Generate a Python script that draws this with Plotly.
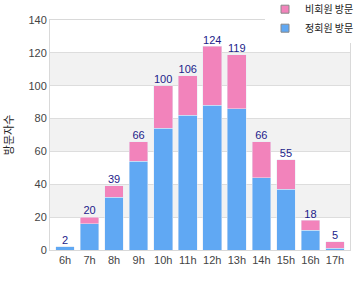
import plotly.graph_objects as go

hours = ["6h", "7h", "8h", "9h", "10h", "11h", "12h", "13h", "14h", "15h", "16h", "17h"]
blue_vals = [2, 16, 32, 54, 74, 82, 88, 86, 44, 37, 12, 1]
pink_vals = [0, 4, 7, 12, 26, 24, 36, 33, 22, 18, 6, 4]
totals = [b + p for b, p in zip(blue_vals, pink_vals)]
blue_name = "정회원 방문"
pink_name = "비회원 방문"
y_title = "방문자수"
band_ranges = [(20, 40), (60, 80), (100, 120)]

BLUE = "#60a8f3"
PINK = "#f283bb"
FONT = "Liberation Sans, Arial, sans-serif"

fig = go.Figure()
fig.add_trace(go.Bar(x=hours, y=blue_vals, marker_color=BLUE, showlegend=False, name=blue_name))
fig.add_trace(go.Bar(x=hours, y=pink_vals, marker_color=PINK, showlegend=False, name=pink_name))
fig.add_trace(go.Scatter(x=hours, y=totals, mode="text", text=[str(t) for t in totals],
                         textposition="top center", textfont=dict(color="#1c1c8a", size=11, family=FONT),
                         showlegend=False, cliponaxis=False))
# legend entries
fig.add_trace(go.Scatter(x=[None], y=[None], mode="markers", name=pink_name,
                         marker=dict(symbol="square", size=8, color=PINK, line=dict(color="#888", width=1))))
fig.add_trace(go.Scatter(x=[None], y=[None], mode="markers", name=blue_name,
                         marker=dict(symbol="square", size=8, color=BLUE, line=dict(color="#888", width=1))))

shapes = []
for lo, hi in band_ranges:
    shapes.append(dict(type="rect", xref="paper", yref="y", x0=0, x1=1, y0=lo, y1=hi,
                       fillcolor="#f2f2f2", line=dict(width=0), layer="below"))

fig.update_layout(
    width=360, height=300,
    margin=dict(l=50, r=10, t=20, b=50, autoexpand=False),
    barmode="stack", bargap=0.24,
    plot_bgcolor="white", paper_bgcolor="white",
    font=dict(family=FONT, size=11, color="#444"),
    shapes=shapes,
    legend=dict(x=1.03, xanchor="right", y=1.11, yanchor="top", bgcolor="white",
                font=dict(size=10, color="#222", family="Noto Sans CJK KR, sans-serif"),
                traceorder="normal", tracegroupgap=0, itemwidth=30),
    xaxis=dict(showline=True, linecolor="#d9d9d9", mirror=True, ticks="", showgrid=False,
               tickfont=dict(size=11, color="#444")),
    yaxis=dict(range=[0, 140], dtick=20, showline=True, linecolor="#d9d9d9", mirror=True,
               gridcolor="#dddddd", zeroline=False, ticks="",
               tickfont=dict(size=11, color="#444"),
               title=dict(text=y_title, font=dict(size=11, color="#222", family="Noto Sans CJK KR, sans-serif"), standoff=18)),
)
fig.write_html("out.html")
